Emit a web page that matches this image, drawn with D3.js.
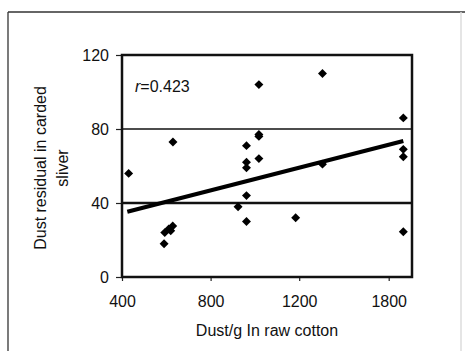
<!DOCTYPE html>
<html>
<head>
<meta charset="utf-8">
<script src="https://cdn.jsdelivr.net/npm/d3@7"></script>
<style>
  html, body { margin: 0; padding: 0; background: #fff; }
  svg { display: block; font-family: "Liberation Sans", Arial, sans-serif; }
</style>
</head>
<body>
<svg id="chart" width="465" height="351"></svg>
<script>
// dust per gram in raw cotton vs dust residual in carded sliver
const dustRaw = [430, 593, 611, 620, 629, 590, 630, 924, 962, 962, 962, 962, 962,
  1018, 1018, 1018, 1018, 1184, 1356, 1356, 1898, 1898, 1898, 1898];
const dustSliver = [56, 24, 26, 25, 27.6, 18, 73, 38, 71, 62, 59, 44, 30,
  104, 77, 76, 64, 32, 110, 61, 86, 69, 65, 24.5];

// fitted line, two ends
const trendX = [424, 1898];
const trendY = [35.3, 73.5];

const xTicks = [400, 800, 1200, 1800];
const yTicks = [0, 40, 80, 120];
const gridLines = [40, 80];
const rText = 'r=0.423';

const svg = d3.select('#chart');
const margin = { top: 55, left: 122 };
const width = 290;
const height = 222;

// outer figure border
svg.append('line').attr('x1', 8).attr('x2', 465).attr('y1', 12).attr('y2', 12)
  .attr('stroke', '#333').attr('stroke-width', 1.3);
svg.append('line').attr('x1', 8).attr('x2', 8).attr('y1', 12).attr('y2', 351)
  .attr('stroke', '#333').attr('stroke-width', 1.3);
svg.append('line').attr('x1', 461).attr('x2', 461).attr('y1', 12).attr('y2', 351)
  .attr('stroke', '#ddd').attr('stroke-width', 1.5);

const g = svg.append('g')
  .attr('transform', `translate(${margin.left},${margin.top})`);

// axis labels are not evenly valued, so x is piecewise
const x = d3.scaleLinear()
  .domain([400, 1200, 1800])
  .range([0, 177.2, 266.7]);

const y = d3.scaleLinear()
  .domain([0, 120])
  .range([height, 0]);

g.selectAll('line.grid')
  .data(gridLines)
  .enter()
  .append('line')
  .attr('class', 'grid')
  .attr('x1', 0)
  .attr('x2', width)
  .attr('y1', d => y(d))
  .attr('y2', d => y(d))
  .attr('stroke', '#111')
  .attr('stroke-width', d => d === 40 ? 2.5 : 1.3);

const xAxis = g.append('g')
  .attr('transform', `translate(0,${height})`)
  .call(d3.axisBottom(x).tickValues(xTicks).tickFormat(d3.format('d')).tickSize(4).tickPadding(15));

const yAxis = g.append('g')
  .call(d3.axisLeft(y).tickValues(yTicks).tickSize(6).tickPadding(7));

[xAxis, yAxis].forEach(a => {
  a.select('.domain').remove();
  a.selectAll('line').attr('stroke', '#222').attr('stroke-width', 1.2);
  a.selectAll('text').attr('fill', '#111').style('font-size', '16px');
});

// plot frame
g.append('rect')
  .attr('x', 0).attr('y', 0)
  .attr('width', width).attr('height', height)
  .attr('fill', 'none')
  .attr('stroke', '#111')
  .attr('stroke-width', 2.5);

const line = d3.line()
  .x(d => x(d[0]))
  .y(d => y(d[1]));

g.append('path')
  .attr('d', line(trendX.map((v, i) => [v, trendY[i]])))
  .attr('fill', 'none')
  .attr('stroke', '#000')
  .attr('stroke-width', 4);

const diamond = d3.symbol().type(d3.symbolSquare).size(40);

g.selectAll('path.pt')
  .data(dustRaw.map((v, i) => [v, dustSliver[i]]))
  .enter()
  .append('path')
  .attr('class', 'pt')
  .attr('d', diamond)
  .attr('transform', d => `translate(${x(d[0])},${y(d[1])}) rotate(45)`)
  .attr('fill', '#000');

const rLabel = g.append('text')
  .attr('x', 13)
  .attr('y', 36.5)
  .attr('fill', '#111')
  .style('font-size', '16px');
rLabel.append('tspan').style('font-style', 'italic').text(rText.slice(0, 1));
rLabel.append('tspan').text(rText.slice(1));

// axis titles
svg.append('text')
  .attr('x', margin.left + width / 2)
  .attr('y', 330)
  .attr('dy', '0.35em')
  .attr('text-anchor', 'middle')
  .attr('fill', '#111')
  .style('font-size', '16px')
  .text('Dust/g In raw cotton');

const yTitle = svg.append('text')
  .attr('transform', 'translate(0,168) rotate(-90)')
  .attr('text-anchor', 'middle')
  .attr('fill', '#111')
  .style('font-size', '16px');
yTitle.append('tspan').attr('x', 0).attr('y', 40.7).attr('dy', '0.35em').text('Dust residual in carded');
yTitle.append('tspan').attr('x', 0).attr('y', 62.7).attr('dy', '0.35em').text('sliver');
</script>
</body>
</html>
